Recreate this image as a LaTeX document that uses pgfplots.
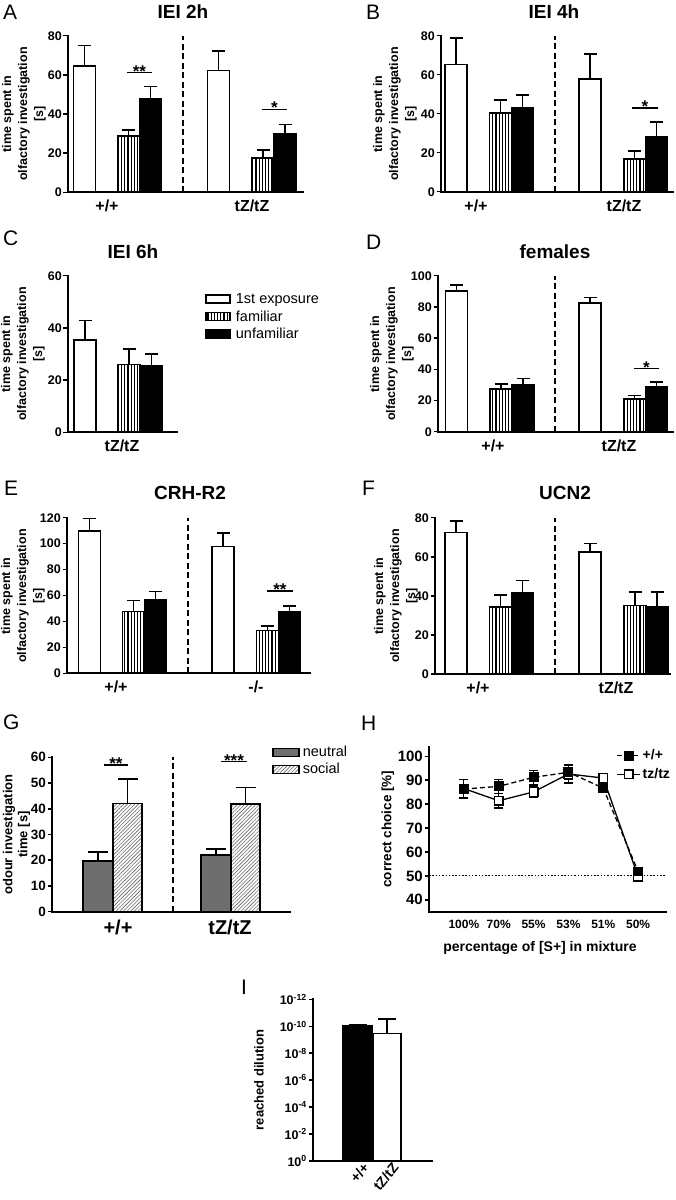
\documentclass[border=0pt]{standalone}
\usepackage{fontspec}
\setmainfont{Liberation Sans}
\usepackage{pgfplots}
\pgfplotsset{compat=1.18}
\usetikzlibrary{patterns.meta}
\newcommand{\fs}[1]{\fontsize{#1}{#1}\selectfont}
\definecolor{ngray}{RGB}{110,110,110}
\pgfplotsset{
 panel/.style={scale only axis, anchor=south west, enlargelimits=false, clip=false,
   axis x line*=bottom, axis y line*=left,
   axis line style={line width=1.8pt, line cap=rect},
   xmin=0, ymin=0,
   tick align=outside, major tick length=4.5pt,
   ytick style={line width=1.5pt, black},
   xtick style={draw=none},
   yticklabel style={font=\bfseries\fs{12.5}, inner sep=1.5pt},
   xticklabel style={font=\bfseries\fs{16}},
   /pgf/number format/assume math mode=true,
 },
 wb/.style={ybar, bar shift=0pt, bar width=22, fill=white, draw=black, line width=1.7pt},
 hb/.style={ybar, bar shift=0pt, bar width=22, draw=black, line width=1.7pt, pattern={Lines[angle=90,distance=3.2pt,line width=1.1pt]}},
 bb/.style={ybar, bar shift=0pt, bar width=22, fill=black, draw=black, line width=1.7pt},
 eb/.style={error bars/.cd, y dir=plus, y explicit, error bar style={line width=1.6pt, black, solid}, error mark options={rotate=90, line width=1.6pt, mark size=6.5pt, black, solid}},
}
\newcommand{\sig}[4]{\draw[line width=1.5pt] (axis cs:#1,#3) -- (axis cs:#2,#3) node[midway, anchor=base, yshift=-4.5pt, font=\bfseries\fs{17}, inner sep=0pt] {#4};}
\newcommand{\sep}[2]{\draw[line width=1.6pt, dash pattern=on 6pt off 3.5pt] (axis cs:#1,0) -- (axis cs:#1,#2);}
\newcommand{\ylab}[3]{\node[rotate=90, font=\bfseries\fontsize{12.5}{16}\selectfont, align=center, inner sep=0pt] at (#1pt,-#2pt) {#3};}
\newcommand{\letter}[3]{\node[anchor=west, font=\fs{21}, inner sep=0pt] at (#1pt,-#2pt) {#3};}
\newcommand{\ttl}[3]{\node[font=\bfseries\fs{19}, inner sep=0pt] at (#1pt,-#2pt) {#3};}
\begin{document}
\begin{tikzpicture}
\path[use as bounding box] (0pt,0pt) rectangle (676pt,-1200pt);
% ---------- A
\letter{3}{12}{A}\ttl{183}{12}{IEI 2h}
\ylab{24}{114}{time spent in\\olfactory investigation\\{[s]}}
\begin{axis}[panel, at={(68pt,-192.3pt)}, width=235pt, height=156.6pt, xmax=235, ymax=80,
  ytick={0,20,40,60,80}, xtick={39,184}, xticklabels={+/+,tZ/tZ}]
\addplot[wb,eb] coordinates {(16.5,64.7) +- (0,10.2)};
\addplot[hb,eb] coordinates {(60.5,28.8) +- (0,3.0)};
\addplot[bb,eb] coordinates {(82.5,47.7) +- (0,6.3)};
\addplot[wb,eb] coordinates {(150.5,62.3) +- (0,9.9)};
\addplot[hb,eb] coordinates {(195,17.7) +- (0,3.8)};
\addplot[bb,eb] coordinates {(217,30.0) +- (0,4.7)};
\sep{115}{80}
\sig{59}{84}{61.1}{**}
\sig{194}{219}{42.4}{*}
\end{axis}
% ---------- B
\letter{366}{12}{B}\ttl{554}{12}{IEI 4h}
\ylab{395}{114}{time spent in\\olfactory investigation\\{[s]}}
\begin{axis}[panel, at={(441pt,-191.7pt)}, width=232pt, height=156pt, xmax=232, ymax=80,
  ytick={0,20,40,60,80}, xtick={35,183}, xticklabels={+/+,tZ/tZ}]
\addplot[wb,eb] coordinates {(15,65.3) +- (0,13.4)};
\addplot[hb,eb] coordinates {(59.5,40.2) +- (0,6.8)};
\addplot[bb,eb] coordinates {(81.5,43.1) +- (0,6.5)};
\addplot[wb,eb] coordinates {(149,57.8) +- (0,12.8)};
\addplot[hb,eb] coordinates {(193.5,16.6) +- (0,4.4)};
\addplot[bb,eb] coordinates {(215.5,28.2) +- (0,7.7)};
\sep{114}{80}
\sig{191}{217}{42.8}{*}
\end{axis}
% ---------- C
\letter{3}{238}{C}\ttl{133}{252}{IEI 6h}
\ylab{23}{354}{time spent in\\olfactory investigation\\{[s]}}
\begin{axis}[panel, at={(68pt,-432.3pt)}, width=109pt, height=156.6pt, xmax=109, ymax=60,
  ytick={0,20,40,60}, xtick={54}, xticklabels={tZ/tZ},
  legend image code/.code={\draw[#1] (0pt,-4pt) rectangle (24pt,4pt);},
  legend cell align=left,
  legend style={at={(axis description cs:1.257,0.9)}, anchor=north west, draw=none, fill=none,
     font=\fs{14.5}, row sep=1.5pt, column sep=3pt, inner sep=0pt}]
\addplot[wb,eb] coordinates {(17,35.4) +- (0,7.4)};
\addlegendentry{1st exposure}
\addplot[hb,eb] coordinates {(61,26.0) +- (0,5.9)};
\addlegendentry{familiar}
\addplot[bb,eb] coordinates {(83.5,25.5) +- (0,4.4)};
\addlegendentry{unfamiliar}
\end{axis}
% ---------- D
\letter{366}{242}{D}\ttl{555}{252}{females}
\ylab{392}{354}{time spent in\\olfactory investigation\\{[s]}}
\begin{axis}[panel, at={(438pt,-431.7pt)}, width=235pt, height=156pt, xmax=235, ymax=100,
  ytick={0,20,40,60,80,100}, xtick={55,181}, xticklabels={+/+,tZ/tZ}]
\addplot[wb,eb] coordinates {(18.5,90.2) +- (0,3.8)};
\addplot[hb,eb] coordinates {(63,27.3) +- (0,3.2)};
\addplot[bb,eb] coordinates {(85,30.0) +- (0,4.2)};
\addplot[wb,eb] coordinates {(152,82.3) +- (0,3.7)};
\addplot[hb,eb] coordinates {(196.5,20.9) +- (0,2.2)};
\addplot[bb,eb] coordinates {(218.5,28.7) +- (0,3.0)};
\sep{117}{100}
\sig{196}{221}{40.5}{*}
\end{axis}
% ---------- E
\letter{4}{488}{E}\ttl{190}{493}{CRH-R2}
\ylab{23}{596}{time spent in\\olfactory investigation\\{[s]}}
\begin{axis}[panel, at={(67pt,-673.3pt)}, width=243pt, height=155.6pt, xmax=243, ymax=120,
  ytick={0,20,40,60,80,100,120}, xtick={49,189}, xticklabels={+/+,-/-}]
\addplot[wb,eb] coordinates {(22.5,109.8) +- (0,9.7)};
\addplot[hb,eb] coordinates {(66.5,47.6) +- (0,8.4)};
\addplot[bb,eb] coordinates {(88.5,56.6) +- (0,6.4)};
\addplot[wb,eb] coordinates {(156,97.7) +- (0,10.3)};
\addplot[hb,eb] coordinates {(200.5,32.9) +- (0,3.8)};
\addplot[bb,eb] coordinates {(222.5,47.1) +- (0,4.6)};
\sep{121}{120}
\sig{200}{226}{63.3}{**}
\end{axis}
% ---------- F
\letter{362}{488}{F}\ttl{565}{493}{UCN2}
\ylab{396}{596}{time spent in\\olfactory investigation\\{[s]}}
\begin{axis}[panel, at={(435pt,-674pt)}, width=235pt, height=156.3pt, xmax=235, ymax=80,
  ytick={0,20,40,60,80}, xtick={43,181}, xticklabels={+/+,tZ/tZ}]
\addplot[wb,eb] coordinates {(21,72.5) +- (0,5.8)};
\addplot[hb,eb] coordinates {(65.5,34.3) +- (0,6.0)};
\addplot[bb,eb] coordinates {(87.5,41.6) +- (0,6.2)};
\addplot[wb,eb] coordinates {(155,62.3) +- (0,4.6)};
\addplot[hb,eb] coordinates {(200,35.0) +- (0,7.0)};
\addplot[bb,eb] coordinates {(222,34.4) +- (0,7.5)};
\sep{120}{80}
\end{axis}
% ---------- G
\letter{3}{722}{G}
\node[rotate=90, font=\bfseries\fontsize{13}{15}\selectfont, align=center, inner sep=0pt] at (16.5pt,-834.5pt) {odour investigation\\time {[s]}};
\begin{axis}[panel, at={(52pt,-911.7pt)}, width=238pt, height=154.4pt, xmax=238, ymax=60,
  ytick={0,10,20,30,40,50,60}, yticklabel style={font=\bfseries\fs{13.5}},
  xtick={66,178}, xticklabels={+/+,tZ/tZ}, xticklabel style={font=\bfseries\fs{20}},
  legend image code/.code={\draw[#1] (0pt,-4pt) rectangle (26pt,4pt);},
  legend cell align=left,
  legend style={at={(axis description cs:0.924,1.085)}, anchor=north west, draw=none, fill=none,
     font=\fs{14.5}, row sep=1pt, column sep=1pt, inner sep=0pt}]
\addplot[ybar, bar shift=0pt, bar width=29.5, fill=ngray, draw=black, line width=1.7pt,
  error bars/.cd, y dir=plus, y explicit, error bar style={line width=1.6pt, black}, error mark options={rotate=90, line width=1.6pt, mark size=10pt, black}]
  coordinates {(46,19.7) +- (0,3.4) (164,22.0) +- (0,2.4)};
\addlegendentry{neutral}
\addplot[ybar, bar shift=0pt, bar width=29.5, draw=black, line width=1.7pt, pattern={Lines[angle=45,distance=2.6pt,line width=0.6pt]}, pattern color=black!60,
  error bars/.cd, y dir=plus, y explicit, error bar style={line width=1.6pt, black}, error mark options={rotate=90, line width=1.6pt, mark size=10pt, black}]
  coordinates {(75.5,42.1) +- (0,9.5) (193.5,41.8) +- (0,6.5)};
\addlegendentry{social}
\sep{121}{60}
\sig{52}{76}{57.0}{**}
\sig{169}{195}{58.3}{***}
\end{axis}
% ---------- H
\letter{361}{723}{H}
\node[rotate=90, font=\bfseries\fs{13.5}, inner sep=0pt] at (388pt,-829pt) {correct choice [\%]};
\node[font=\bfseries\fs{14}, inner sep=0pt] at (540pt,-948pt) {percentage of [S+] in mixture};
\begin{axis}[panel, at={(429pt,-911.7pt)}, width=237pt, height=165pt, xmin=0, xmax=6.8, ymin=35, ymax=104,
  ytick={40,50,...,100}, yticklabel style={font=\bfseries\fs{15}},
  xtick={1,...,6}, xticklabels={100\%,70\%,55\%,53\%,51\%,50\%}, xticklabel style={font=\bfseries\fs{12}},
  reverse legend, legend cell align=left,
  legend image code/.code={\draw[mark repeat=2,mark phase=2,#1] plot coordinates {(0pt,0pt) (11.5pt,0pt) (23pt,0pt)};},
  legend style={at={(axis description cs:0.79,0.995)}, anchor=north west, draw=none, fill=none,
     font=\bfseries\fs{14}, row sep=3pt, inner sep=0pt}]
\draw[line width=1pt, dash pattern=on 1.5pt off 1.8pt] (axis cs:0,50) -- (axis cs:6.8,50);
\addplot[black, line width=1.3pt, mark=square*, mark size=4.3pt, mark options={fill=white, solid, line width=1.3pt},
  error bars/.cd, y dir=both, y explicit, error bar style={line width=1.2pt, solid}, error mark options={rotate=90, line width=1.2pt, mark size=4.5pt, solid}]
  coordinates {(1,86.5) +- (0,3.8) (2,81.4) +- (0,3.0) (3,85.1) +- (0,2.5) (4,92.6) +- (0,3.8) (5,90.9) +- (0,2.0) (6,49.7) +- (0,1.0)};
\addlegendentry{tz/tz}
\addplot[black, line width=1.3pt, dash pattern=on 5pt off 3pt, mark=square*, mark size=4.3pt, mark options={fill=black, solid, line width=1.3pt},
  error bars/.cd, y dir=both, y explicit, error bar style={line width=1.2pt, solid}, error mark options={rotate=90, line width=1.2pt, mark size=4.5pt, solid}]
  coordinates {(1,86.3) +- (0,3.9) (2,87.4) +- (0,3.0) (3,91.2) +- (0,3.0) (4,93.3) +- (0,3.0) (5,86.7) +- (0,2.0) (6,51.8) +- (0,1.5)};
\addlegendentry{+/+}
\end{axis}
% ---------- I
\letter{241}{987}{I}
\node[rotate=90, font=\bfseries\fs{13}, inner sep=0pt] at (259pt,-1080pt) {reached dilution};
\begin{axis}[panel, at={(313pt,-1161pt)}, width=119pt, height=161.7pt, xmax=119, ymax=12,
  ytick={0,2,4,6,8,10,12},
  yticklabels={10\textsuperscript{0},10\textsuperscript{-2},10\textsuperscript{-4},10\textsuperscript{-6},10\textsuperscript{-8},10\textsuperscript{-10},10\textsuperscript{-12}},
  yticklabel style={font=\bfseries\fs{12.5}},
  xtick={44.5,74}, xticklabels={+/+,tZ/tZ}, xticklabel style={rotate=50, anchor=north east, font=\bfseries\fs{14}, xshift=7pt, inner sep=1pt}]
\addplot[ybar, bar shift=0pt, bar width=29.5, fill=black, draw=black, line width=1.7pt,
  error bars/.cd, y dir=plus, y explicit, error bar style={line width=1.6pt, black}, error mark options={rotate=90, line width=1.6pt, mark size=9pt, black}]
  coordinates {(44.5,10.0) +- (0,0.08)};
\addplot[ybar, bar shift=0pt, bar width=28.5, fill=white, draw=black, line width=1.7pt,
  error bars/.cd, y dir=plus, y explicit, error bar style={line width=1.6pt, black}, error mark options={rotate=90, line width=1.6pt, mark size=9pt, black}]
  coordinates {(74,9.46) +- (0,1.1)};
\end{axis}
\end{tikzpicture}
\end{document}
